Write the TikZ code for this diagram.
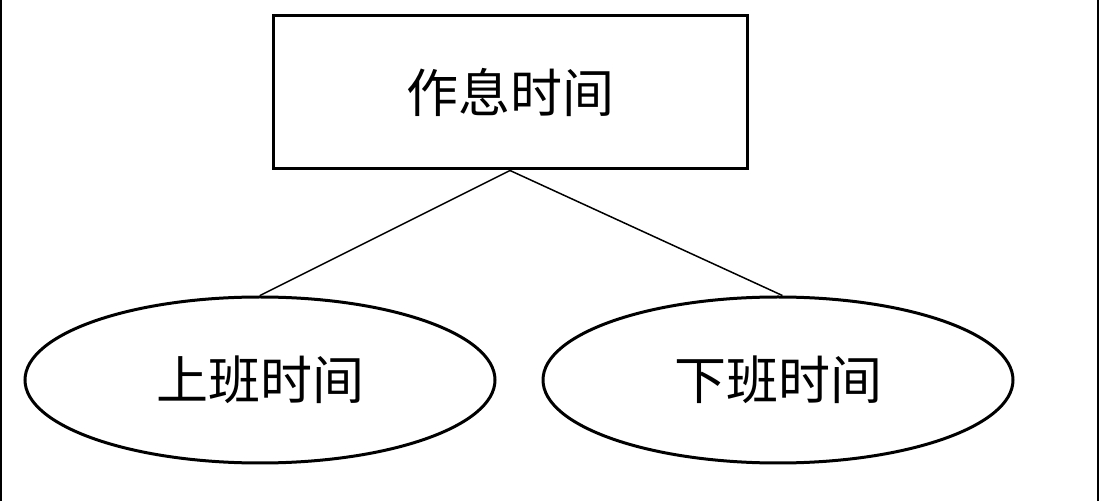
\documentclass[tikz,border=0pt]{standalone}
\usepackage{fontspec}
\newfontfamily\cjk{Noto Sans CJK SC}
\usetikzlibrary{shapes.geometric}
\begin{document}
\begin{tikzpicture}[x=1pt,y=1pt,
  ent/.style={draw,line width=3pt,minimum width=474pt,minimum height=153pt,font=\cjk\fontsize{52}{56}\selectfont},
  att/.style={draw,ellipse,line width=3pt,minimum width=470pt,minimum height=166pt,inner sep=0pt,font=\cjk\fontsize{52}{56}\selectfont}]
\useasboundingbox (0,0) rectangle (1101,501);
\draw[line width=2pt] (1,0) -- (1,501);
\draw[line width=2pt] (1098,0) -- (1098,501);
\node[ent] (r) at (510,408.5) {作息时间};
\node[att] (a) at (260,121) {上班时间};
\node[att] (b) at (778,121) {下班时间};
\draw[line width=1.5pt] (r.south) -- (a.north);
\draw[line width=1.5pt] (r.south) -- (b.87);
\end{tikzpicture}
\end{document}
